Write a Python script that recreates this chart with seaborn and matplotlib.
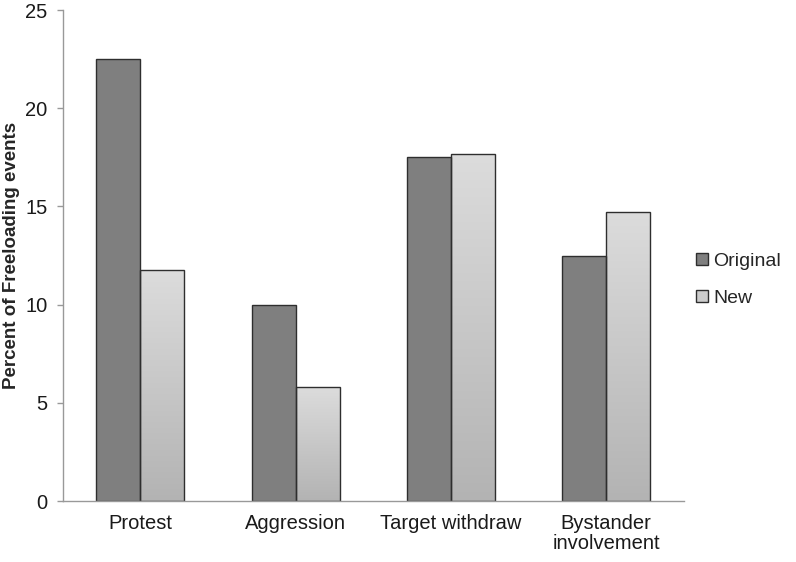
import numpy as np
import pandas as pd
import matplotlib
matplotlib.use("Agg")
import matplotlib.pyplot as plt
from matplotlib.lines import Line2D
from matplotlib.colors import LinearSegmentedColormap
import seaborn as sns

categories = ["Protest", "Aggression", "Target withdraw", "Bystander\ninvolvement"]
original = [22.5, 10.0, 17.5, 12.5]
new = [11.75, 5.8, 17.65, 14.73]
series = ["Original", "New"]
yticks = [0, 5, 10, 15, 20, 25]

df = pd.DataFrame({
    "category": categories * 2,
    "value": original + new,
    "series": ["Original"] * len(categories) + ["New"] * len(categories),
})

sns.set_theme(style="white")
plt.rcParams["font.family"] = ["Liberation Sans", "DejaVu Sans"]

fig = plt.figure(figsize=(7.96, 5.62), dpi=100)
ax = fig.add_axes([0.079, 0.1085, 0.78, 0.8735])

sns.barplot(data=df, x="category", y="value", hue="series", hue_order=series,
            palette={"Original": "#7f7f7f", "New": "#cccccc"},
            width=0.567, edgecolor="#2e2e2e", linewidth=1.0, legend=False,
            ax=ax, saturation=1)

# gradient fill for "New" bars
cmap = LinearSegmentedColormap.from_list("g", ["#b3b3b3", "#dcdcdc"])
grad = np.linspace(0, 1, 256).reshape(-1, 1)
n = len(categories)
new_patches = ax.patches[n:2 * n]
for p in new_patches:
    bb = p.get_bbox()
    im = ax.imshow(grad, cmap=cmap, origin="lower", aspect="auto",
                   extent=[bb.x0, bb.x1, bb.y0, bb.y1], zorder=p.get_zorder() - 0.05)
    im.set_clip_path(p)
    p.set_facecolor("none")
    p.set_zorder(p.get_zorder() + 0.1)

ax.set_xlim(-0.5, n - 0.5)
ax.set_ylim(0, 25)
ax.set_yticks(yticks)
ax.set_yticklabels([str(t) for t in yticks], fontsize=14.5, color="#1a1a1a")
ax.set_xticks(range(n))
ax.set_xticklabels(categories, fontsize=14.5, color="#1a1a1a", linespacing=1.1)
ax.set_xticks(np.arange(-0.5, n, 1.0), minor=True)
ax.tick_params(axis="x", which="major", length=0, pad=9)
ax.tick_params(axis="x", which="minor", length=6, width=1, color="#999999", direction="out")
ax.tick_params(axis="y", which="major", length=4, width=1, color="#999999", direction="out", left=True, pad=7)

ax.set_xlabel("")
ax.set_ylabel("Percent of Freeloading events", fontsize=13.5, fontweight="bold")
ax.yaxis.set_label_coords(-0.069, 0.5)

for s in ["top", "right"]:
    ax.spines[s].set_visible(False)
for s in ["left", "bottom"]:
    ax.spines[s].set_color("#999999")
    ax.spines[s].set_linewidth(1.0)

handles = [
    Line2D([], [], linestyle="none", marker="s", markersize=9,
           markerfacecolor="#7f7f7f", markeredgecolor="#2e2e2e", markeredgewidth=1),
    Line2D([], [], linestyle="none", marker="s", markersize=9,
           markerfacecolor="#cccccc", markeredgecolor="#2e2e2e", markeredgewidth=1),
]
fig.legend(handles, series, loc="center left", bbox_to_anchor=(0.85, 0.503),
           frameon=False, fontsize=14, handlelength=0.8, handletextpad=0.2,
           labelspacing=1.0)

fig.savefig("out.png", dpi=100)
